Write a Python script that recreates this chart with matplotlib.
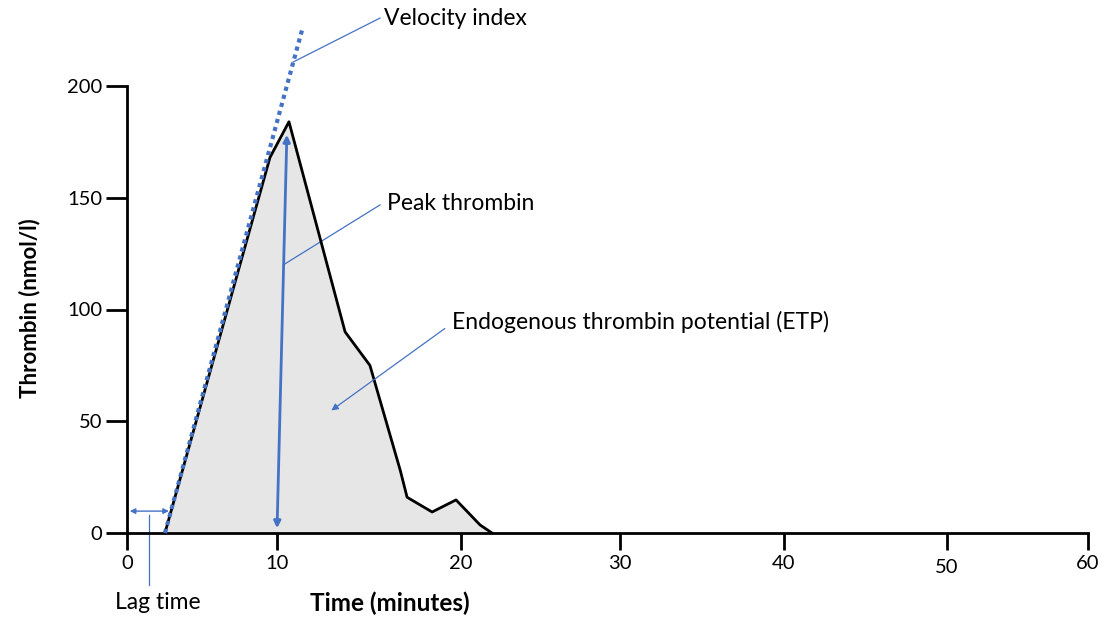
import numpy as np
import matplotlib
matplotlib.use("Agg")
import matplotlib.pyplot as plt
from matplotlib.scale import FuncScale

plt.rcParams['font.family'] = ['Lato', 'DejaVu Sans']

# Curva de geração de trombina
tempo = [2.53, 9.53, 10.65, 13.7, 15.05, 16.7, 17.07, 18.43, 19.73, 21.2, 21.95]
trombina = [0, 168, 184, 90, 75, 28, 16, 9.4, 14.8, 3.6, 0]

# Reta do índice de velocidade
vel_tempo = [2.53, 11.36]
vel_trombina = [0, 225]

# Pico e lag time
pico_base = (10.0, 0.9)
pico_topo = (10.54, 179.4)
lag_inicio = 0.0
lag_fim = 2.98
lag_nivel = 9.8

xticks = [0, 10, 20, 30, 40, 50, 60]
yticks = [0, 50, 100, 150, 200]

# eixo x desenhado a mão: espaçamento irregular entre marcas
posicoes_x = [0, 150, 334, 493, 657, 820, 961]
def fwd(x):
    return np.interp(x, xticks, posicoes_x)
def inv(p):
    return np.interp(p, posicoes_x, xticks)

azul = "#4472C4"

fig = plt.figure(figsize=(11.12, 6.19), dpi=100)
ax = fig.add_axes([127 / 1112, 1 - 533 / 619, (1088 - 127) / 1112, (533 - 86) / 619])
ax.set_xscale(FuncScale(ax, (fwd, inv)))
ax.set_xlim(0, 60)
ax.set_ylim(0, 200)

ax.fill_between(tempo, trombina, 0, color="#e6e6e6", lw=0)
ax.plot(tempo, trombina, color="black", lw=2, clip_on=False, zorder=3)
ax.plot(vel_tempo, vel_trombina, color=azul, lw=3, linestyle=(0, (1, 1)), clip_on=False, zorder=4)

ax.annotate("", xy=pico_topo, xytext=pico_base,
            arrowprops=dict(arrowstyle="<|-|>", color=azul, lw=2, mutation_scale=10), zorder=5)
ax.annotate("", xy=(lag_fim, lag_nivel), xytext=(lag_inicio, lag_nivel),
            arrowprops=dict(arrowstyle="<|-|>", color=azul, lw=1, mutation_scale=8),
            annotation_clip=False)
ax.plot([1.47, 1.47], [8, -23.3], color=azul, lw=0.9, clip_on=False)
ax.text(2.07, -30.9, "Lag time", ha="center", va="center", fontsize=16.5)

# rótulos com linhas de chamada
ax.plot([10.87, 15.6], [210.7, 230.4], color=azul, lw=0.9, clip_on=False)
ax.text(15.8, 230.4, "Velocity index", ha="left", va="center", fontsize=16.5)
ax.plot([10.33, 15.6], [119.9, 146.8], color=azul, lw=0.9, clip_on=False)
ax.text(15.98, 147.6, "Peak thrombin", ha="left", va="center", fontsize=16.5)
ax.annotate("", xy=(12.83, 54.1), xytext=(19.24, 92.2),
            arrowprops=dict(arrowstyle="-|>", color=azul, lw=0.9, mutation_scale=10))
ax.text(19.5, 94.4, "Endogenous thrombin potential (ETP)", ha="left", va="center", fontsize=16.5)

for s in ["top", "right"]:
    ax.spines[s].set_visible(False)
for s in ["left", "bottom"]:
    ax.spines[s].set_linewidth(2)

ax.set_xticks(xticks)
ax.set_yticks(yticks)
ax.tick_params(axis="x", length=12, width=2, labelsize=14.5, pad=4)
ax.tick_params(axis="y", length=15, width=2, labelsize=14.5, pad=3)
ax.xaxis.get_major_ticks()[5].set_pad(7)

fig.text(30 / 1112, 1 - 308 / 619, "Thrombin (nmol/l)", rotation=90, ha="center", va="center",
         fontsize=16, fontweight="bold")
fig.text(390 / 1112, 1 - 603 / 619, "Time (minutes)", ha="center", va="center",
         fontsize=17.5, fontweight="bold")

fig.savefig("out.png", dpi=100)
